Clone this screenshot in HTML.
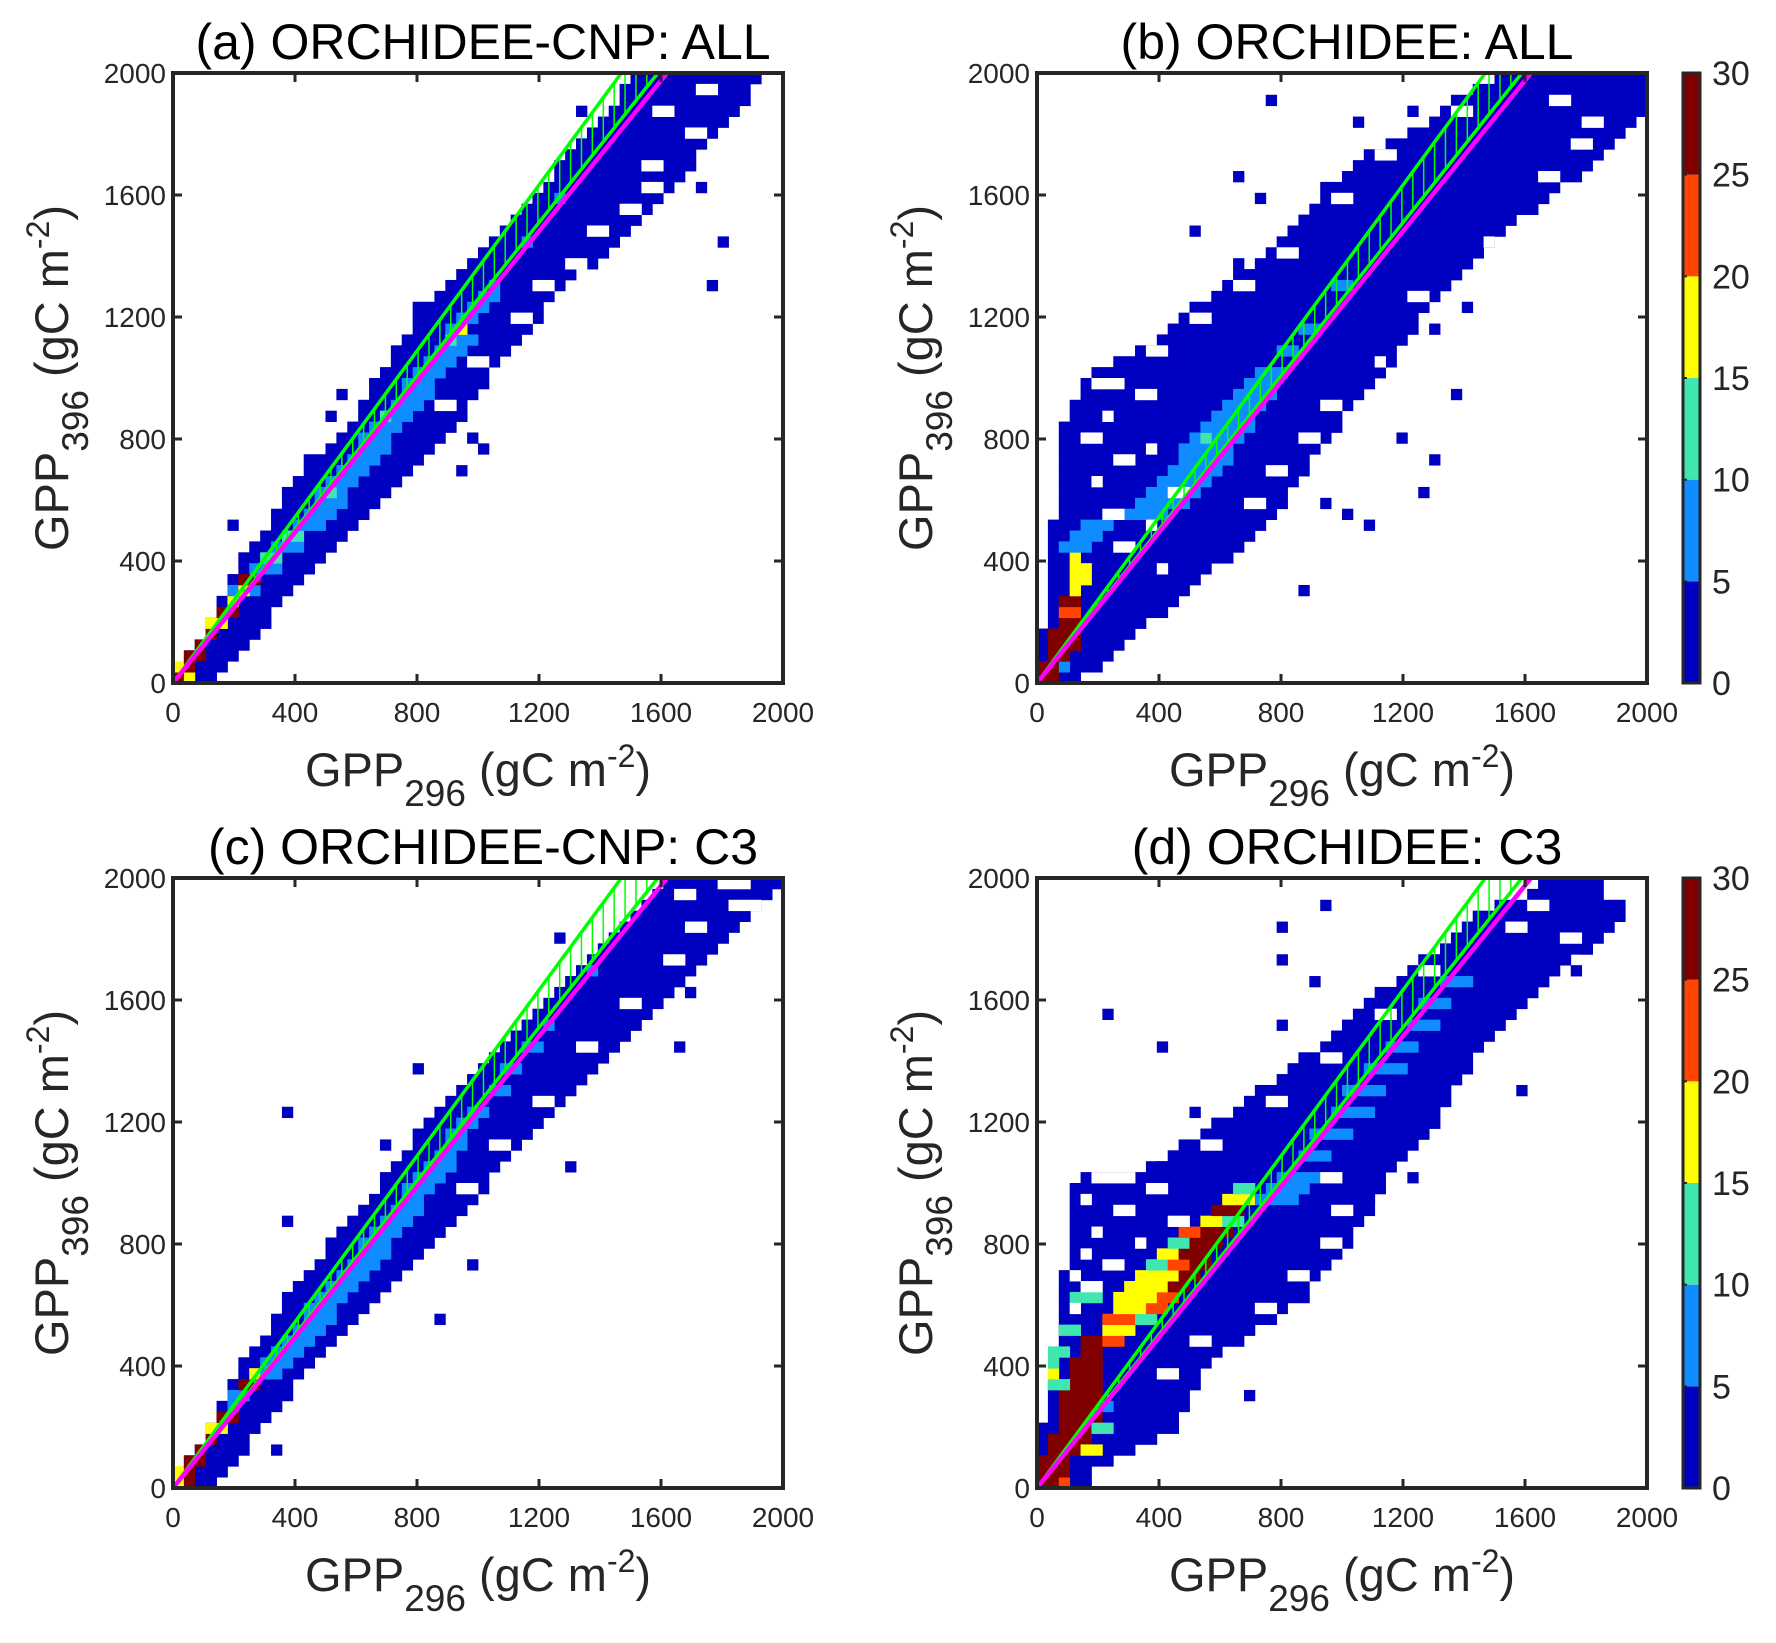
<!DOCTYPE html>
<html><head><meta charset="utf-8"><style>
html,body{margin:0;padding:0;background:#fff}
svg text{font-family:"Liberation Sans",Arial,sans-serif;fill:#262626}
</style></head><body>
<svg id="fig" width="1776" height="1638" viewBox="0 0 1776 1638" xmlns="http://www.w3.org/2000/svg"></svg>
<script>
// ---- data ----
const nBins = 56;
const axisMax = 2000;
const tickValues = [0, 400, 800, 1200, 1600, 2000];
const cbarTicks = [0, 5, 10, 15, 20, 25, 30];
const levelColors = ['#ffffff', '#0000c0', '#0f8cff', '#3fe6b0', '#ffff00', '#ff4500', '#800000'];
const titles = ['(a) ORCHIDEE-CNP: ALL', '(b) ORCHIDEE: ALL', '(c) ORCHIDEE-CNP: C3', '(d) ORCHIDEE: C3'];
// fitted lines: x value at y=2000
const magentaTopX = 1620;
const greenUpperTopX = 1470;
const greenLowerTopX = 1590;

// per-row [x0,x1] bin span of count>0 (row 0 = bottom)
const spansA = [[0,3],[1,4],[1,5],[2,6],[3,7],[3,8],[4,8],[4,9],[5,10],[5,11],[6,12],[6,13],[7,14],[8,15],[9,16],[9,17],[10,18],[10,19],[11,20],[12,21],[13,22],[14,23],[15,24],[16,25],[17,26],[17,26],[18,27],[18,28],[19,28],[20,29],[20,30],[21,31],[22,32],[22,33],[23,33],[24,34],[25,35],[26,36],[27,38],[28,39],[29,40],[30,41],[31,42],[32,43],[33,44],[34,45],[35,46],[35,47],[36,47],[37,48],[38,49],[39,50],[40,51],[41,52],[41,52],[42,53]];
const spansB = [[0,3],[0,5],[0,6],[0,7],[0,8],[1,9],[1,11],[1,12],[1,13],[1,14],[1,15],[1,17],[1,18],[1,19],[1,20],[2,21],[2,22],[2,22],[2,23],[2,24],[2,24],[2,25],[2,26],[2,27],[3,27],[3,28],[4,29],[4,30],[5,31],[7,32],[9,32],[11,33],[12,34],[13,34],[14,35],[16,36],[17,37],[18,38],[20,39],[21,40],[22,41],[23,42],[24,43],[25,45],[26,46],[26,47],[28,49],[29,50],[30,51],[32,52],[34,53],[36,54],[37,55],[38,55],[40,55],[42,55]];
const spansC = [[0,3],[1,4],[1,5],[2,6],[3,6],[3,7],[4,8],[4,9],[5,10],[5,10],[6,11],[6,12],[7,13],[8,14],[9,15],[9,16],[10,17],[10,18],[11,19],[12,20],[13,21],[14,22],[14,23],[15,24],[16,25],[17,26],[18,27],[19,28],[19,28],[20,29],[21,30],[22,31],[22,32],[23,33],[24,34],[25,35],[26,36],[27,37],[28,38],[29,39],[30,40],[31,41],[32,42],[33,43],[34,44],[35,45],[36,46],[37,47],[38,48],[39,49],[40,50],[41,51],[42,52],[43,53],[44,54],[45,55]];
const spansD = [[0,4],[0,4],[0,6],[0,8],[0,10],[0,12],[1,12],[1,13],[1,13],[1,14],[2,14],[2,15],[2,16],[2,17],[2,19],[2,21],[2,22],[2,24],[2,24],[2,25],[3,26],[3,27],[3,28],[3,28],[3,29],[3,30],[3,30],[3,31],[4,31],[10,32],[12,33],[13,34],[15,35],[16,36],[18,36],[19,37],[20,37],[22,38],[23,38],[24,39],[26,40],[27,41],[28,42],[29,43],[30,44],[31,45],[33,46],[34,47],[35,48],[37,50],[38,51],[39,52],[40,53],[42,53],[45,51],[46,51]];

// overlays [row, x0, x1, level] (level 0 = empty gap)
const overA = [[0,0,0,6],[0,1,1,4],[1,0,0,4],[1,1,1,6],[2,1,2,6],[3,2,2,6],[4,3,3,6],[5,3,4,4],[6,4,5,6],[7,5,5,4],[8,5,7,2],[8,6,6,4],[9,6,7,6],[10,7,9,2],[11,8,9,3],[12,9,11,2],[13,10,11,3],[14,11,13,2],[15,12,14,2],[16,13,15,2],[17,13,15,2],[17,14,14,3],[18,14,16,2],[19,15,17,2],[20,16,18,2],[21,17,19,2],[22,17,19,2],[23,18,20,2],[24,19,21,2],[24,19,19,3],[25,20,22,2],[26,21,23,2],[27,21,23,2],[28,22,24,2],[29,23,25,2],[30,24,26,2],[31,25,27,2],[31,25,25,3],[32,25,26,2],[32,26,26,4],[33,26,27,2],[34,27,28,2],[35,28,29,2],[36,29,29,2],[40,32,32,2],[44,35,35,2],
  [50,47,48,0],[52,44,45,0],[47,43,44,0],[43,41,42,0],[38,36,37,0],[33,31,32,0],[29,27,28,0],[25,24,25,0],[54,48,49,0],[45,43,44,0],[41,38,39,0],[36,33,34,0]];
const overB = [[0,0,1,6],[1,0,1,6],[1,2,2,2],[2,1,2,6],[3,1,3,6],[4,1,3,6],[5,2,3,6],[6,2,3,5],[7,2,3,6],[8,3,3,4],[9,3,4,4],[10,3,4,4],[11,3,3,4],[12,2,4,2],[13,3,5,2],[14,4,6,2],[15,8,11,2],[16,9,13,2],[17,10,14,2],[18,11,15,2],[19,12,16,2],[20,13,17,2],[21,13,17,2],[22,14,18,2],[22,15,15,3],[23,15,19,2],[24,16,19,2],[25,17,20,2],[26,18,21,2],[27,19,21,2],[28,20,22,2],[30,22,23,2],[32,24,25,2],[36,27,28,2],
  [27,5,7,0],[26,9,10,0],[24,6,6,0],[22,4,5,0],[21,10,10,0],[20,7,8,0],[18,5,5,0],[17,12,13,0],[15,6,7,0],[14,10,10,0],[12,7,8,0],[10,11,11,0],[25,26,27,0],[22,24,25,0],[19,21,22,0],[16,19,20,0],[30,10,11,0],[33,14,15,0],[36,18,19,0],[39,22,23,0],[44,27,28,0],[48,31,32,0],[52,38,39,0],[53,47,48,0],[51,50,51,0],[49,49,50,0],[46,46,47,0],[40,41,41,0],[35,34,35,0],[29,31,31,0]];
const overC = [[0,0,0,4],[0,1,1,6],[1,0,0,4],[1,1,1,6],[2,1,2,6],[3,2,2,6],[4,3,3,6],[5,3,4,4],[6,4,5,6],[7,5,5,2],[8,5,6,2],[9,6,7,6],[10,7,8,4],[10,8,9,2],[11,8,10,2],[12,9,11,2],[13,10,12,2],[14,11,13,2],[15,12,14,2],[16,12,14,2],[17,13,15,2],[18,14,16,2],[19,15,17,2],[20,16,18,2],[21,17,19,2],[22,17,19,2],[23,18,20,2],[24,19,21,2],[25,20,22,2],[26,21,22,2],[27,21,23,2],[28,22,24,2],[29,23,25,2],[30,24,25,2],[31,25,26,2],[32,25,26,2],[33,26,27,2],[34,27,28,2],[36,29,30,2],[38,30,31,2],[40,32,33,2],[42,34,34,2],[47,38,38,2],
  [53,51,53,0],[54,46,47,0],[51,47,48,0],[48,45,46,0],[44,41,42,0],[40,37,38,0],[35,33,34,0],[31,29,30,0],[27,26,27,0],[55,50,52,0]];
const overD = [[0,0,1,6],[0,2,2,5],[1,0,2,6],[2,0,2,6],[3,1,3,6],[4,1,4,6],[5,2,4,6],[6,2,5,6],[7,2,5,6],[8,2,5,6],[9,3,5,6],[10,3,5,6],[11,3,5,6],[12,4,5,6],[13,4,5,6],[3,4,5,4],[5,5,6,3],[7,6,6,2],[9,1,2,3],[10,1,1,4],[11,1,1,3],[12,1,2,3],[13,6,7,5],[14,6,8,4],[14,2,3,3],[15,6,8,5],[15,9,10,3],[16,7,9,4],[16,10,11,5],[17,7,10,4],[17,11,12,5],[17,3,5,3],[18,8,11,4],[18,12,13,6],[19,9,12,4],[19,13,14,6],[20,10,11,3],[20,12,13,5],[20,14,15,6],[21,11,12,4],[21,13,15,6],[22,12,13,3],[22,14,16,6],[23,13,14,5],[23,15,17,6],[24,15,16,4],[24,17,18,3],[25,16,18,6],[26,17,19,4],[27,18,19,3],[26,20,23,2],[27,21,24,2],[28,22,25,2],[30,24,26,2],[32,25,28,2],[34,27,30,2],[36,28,31,2],[38,30,33,2],[40,32,34,2],[42,34,36,2],[44,35,37,2],[46,37,39,2],
  [28,5,8,0],[27,10,11,0],[26,4,4,0],[25,7,8,0],[24,12,13,0],[23,5,5,0],[22,9,9,0],[21,4,4,0],[20,6,7,0],[19,3,3,0],[18,4,5,0],[16,3,3,0],[28,26,27,0],[25,27,28,0],[22,26,27,0],[19,23,24,0],[16,20,21,0],[13,14,15,0],[10,11,12,0],[31,15,16,0],[35,21,22,0],[39,26,27,0],[43,31,32,0],[47,35,36,0],[51,43,44,0],[53,45,46,0],[50,48,49,0]];
// scattered isolated cells [row, col]
const outA = [[52,37],[47,46],[45,48],[40,50],[34,22],[24,14],[26,15],[21,28],[36,49],[20,12],[14,5],[19,26],[22,27]];
const outB = [[53,21],[52,34],[51,29],[49,35],[46,18],[44,20],[41,14],[38,18],[32,36],[34,39],[26,38],[22,33],[16,26],[14,30],[17,35],[20,36],[15,28],[8,24]];
const outC = [[50,35],[45,47],[40,46],[38,22],[34,10],[31,19],[29,36],[24,10],[20,27],[15,24],[10,8],[3,9],[45,38],[49,44]];
const outD = [[53,26],[51,22],[48,22],[46,25],[43,6],[42,22],[41,28],[40,11],[38,39],[36,44],[34,14],[33,18],[31,23],[30,22],[29,11],[28,34],[26,30],[13,18],[8,19],[47,49],[49,50]];

const spansAll = [spansA, spansB, spansC, spansD];
const overAll = [overA, overB, overC, overD];
const outAll = [outA, outB, outC, outD];

// ---- layout ----
const NS = 'http://www.w3.org/2000/svg';
const svg = document.getElementById('fig');
const panels = [{l:173,t:73},{l:1037,t:73},{l:173,t:878},{l:1037,t:878}];
const W = 610;
function mk(tag, attrs, parent){const e=document.createElementNS(NS,tag);for(const k in attrs)e.setAttribute(k,attrs[k]);(parent||svg).appendChild(e);return e;}

panels.forEach((p,i)=>{
  const sx = v => p.l + v/axisMax*W;
  const sy = v => p.t + W - v/axisMax*W;
  const bw = axisMax/nBins;
  const g = mk('g',{});
  
  
  const cells = mk('g',{},g);
  
  
  function cell(r,c,lvl){
    const x0=sx(c*bw), x1=sx((c+1)*bw), y0=sy((r+1)*bw), y1=sy(r*bw);
    const rc = mk('rect',{x:x0,y:y0,width:x1-x0+0.4,height:y1-y0+0.4,fill:levelColors[lvl]},cells);
    
    
  }
  spansAll[i].forEach((s,r)=>{for(let c=s[0];c<=s[1];c++)cell(r,c,1);});
  outAll[i].forEach(o=>cell(o[0],o[1],1));
  overAll[i].forEach(o=>{for(let c=o[1];c<=o[2];c++)cell(o[0],c,o[3]);});

  // green hatch between lines
  const hatch = mk('g',{stroke:'#00ff00','stroke-width':1.5},g);
  
  
  for(let x=bw/2; x<greenLowerTopX; x+=bw){
    const yLow = Math.min(axisMax, x*axisMax/greenLowerTopX);
    const yUp = Math.min(axisMax, x*axisMax/greenUpperTopX);
    if(yUp-yLow<1) continue;
    mk('line',{x1:sx(x),y1:sy(yLow),x2:sx(x),y2:sy(yUp)},hatch);
  }
  const gu = mk('line',{x1:sx(0),y1:sy(0),x2:sx(greenUpperTopX),y2:sy(axisMax),stroke:'#00ff00','stroke-width':3.5},g);
  
  
  const gl = mk('line',{x1:sx(0),y1:sy(0),x2:sx(greenLowerTopX),y2:sy(axisMax),stroke:'#00ff00','stroke-width':3.5},g);
  
  
  const ml = mk('line',{x1:sx(0),y1:sy(0),x2:sx(magentaTopX),y2:sy(axisMax),stroke:'#ff00ff','stroke-width':4.5},g);
  
  

  // axes box
  const box = mk('rect',{x:p.l,y:p.t,width:W,height:W,fill:'none',stroke:'#262626','stroke-width':4},g);
  
  
  tickValues.forEach(v=>{
    mk('line',{x1:sx(v),y1:p.t+W,x2:sx(v),y2:p.t+W-9,stroke:'#262626','stroke-width':3},g);
    mk('line',{x1:sx(v),y1:p.t,x2:sx(v),y2:p.t+9,stroke:'#262626','stroke-width':3},g);
    mk('line',{x1:p.l,y1:sy(v),x2:p.l+9,y2:sy(v),stroke:'#262626','stroke-width':3},g);
    mk('line',{x1:p.l+W,y1:sy(v),x2:p.l+W-9,y2:sy(v),stroke:'#262626','stroke-width':3},g);
    const tx = mk('text',{x:sx(v),y:p.t+W+39,'font-size':28,'text-anchor':'middle'},g);
    tx.textContent = v;
    
    
    const ty = mk('text',{x:p.l-7,y:sy(v)+10,'font-size':28,'text-anchor':'end'},g);
    ty.textContent = v;
    
    
  });
  const tt = mk('text',{x:p.l+W/2+5,y:p.t-14,'font-size':50,'text-anchor':'middle',style:'fill:#000'},g);
  tt.textContent = titles[i];
  
  
  const xl = mk('text',{x:p.l+W/2,y:p.t+W+103,'font-size':47,'text-anchor':'middle'},g);
  xl.innerHTML = 'GPP<tspan font-size="37" dy="20">296</tspan><tspan dy="-20"> (gC m</tspan><tspan font-size="32" dy="-19">-2</tspan><tspan dy="19">)</tspan>';
  
  
  const yl = mk('text',{x:0,y:0,'font-size':47,'text-anchor':'middle',transform:`translate(${p.l-105},${p.t+W/2}) rotate(-90)`},g);
  yl.innerHTML = 'GPP<tspan font-size="37" dy="20">396</tspan><tspan dy="-20"> (gC m</tspan><tspan font-size="32" dy="-19">-2</tspan><tspan dy="19">)</tspan>';
  
  

  // colorbar for right panels
  if(i===1||i===3){
    const cb = mk('g',{},g);
    
    
    const cx=1683, cw=17, cmax=cbarTicks[cbarTicks.length-1];
    const cy = v => p.t + W - v/cmax*W;
    for(let k=0;k<cbarTicks.length-1;k++){
      mk('rect',{x:cx,y:cy(cbarTicks[k+1]),width:cw,height:cy(cbarTicks[k])-cy(cbarTicks[k+1]),fill:levelColors[k+1]},cb);
    }
    mk('rect',{x:cx,y:p.t,width:cw,height:W,fill:'none',stroke:'#262626','stroke-width':3},cb);
    cbarTicks.forEach(v=>{
      mk('line',{x1:cx,y1:cy(v),x2:cx+4,y2:cy(v),stroke:'#262626','stroke-width':2},cb);
      const lt = mk('text',{x:1712,y:cy(v)+12,'font-size':34},cb);
      lt.textContent = v;
      
      
    });
  }
});
</script>
</body></html>
